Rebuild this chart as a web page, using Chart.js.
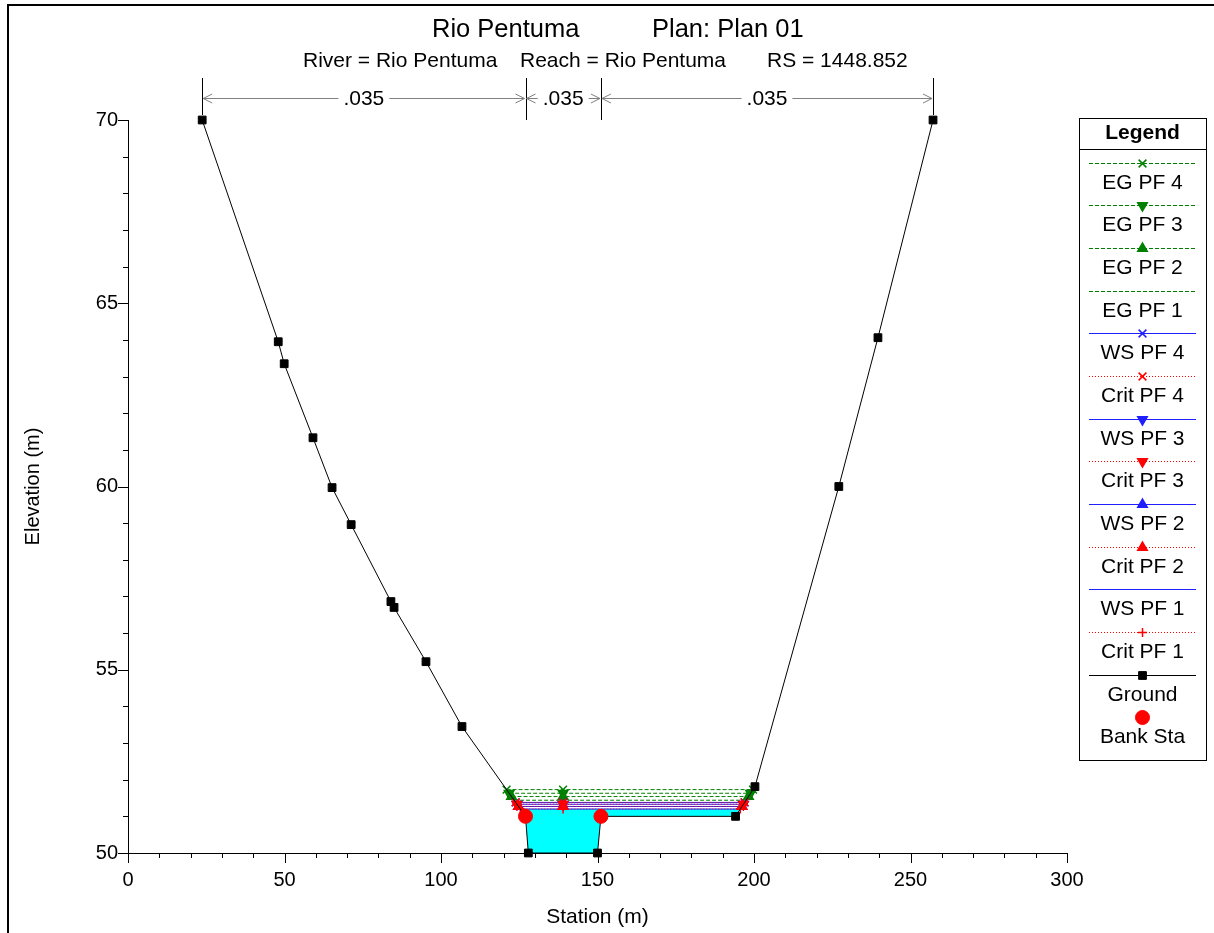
<!DOCTYPE html>
<html>
<head>
<meta charset="utf-8">
<title>Rio Pentuma - Plan 01</title>
<script src="https://cdn.jsdelivr.net/npm/chart.js@4/dist/chart.umd.min.js"></script>
<style>
  html, body { margin: 0; padding: 0; background: #fff; }
  #wrap { width: 1214px; height: 933px; }
</style>
</head>
<body>
<div id="wrap"><canvas id="xsChart" width="1214" height="933"></canvas></div>
<script>
'use strict'

// Ground points of the cross section (station m, elevation m)
const groundSta = [23.7, 48.0, 49.9, 59.1, 65.2, 71.3, 84.0, 85.0, 95.2, 106.7, 127.0, 127.9, 150.0, 151.1, 194.1, 200.3, 227.1, 239.6, 257.2]
const groundElev = [70.0, 63.95, 63.35, 61.33, 59.97, 58.96, 56.86, 56.70, 55.22, 53.45, 51.0, 50.0, 50.0, 51.0, 51.0, 51.81, 60.0, 64.06, 70.0]

// Bank stations
const bankSta = [127.0, 151.1]
const bankElev = [51.0, 51.0]

// Manning's n zones along the top
const nBreaks = [23.7, 127.0, 151.1, 257.2]
const nValues = ['.035', '.035', '.035']

// Profiles (legend order) and their elevations
const profileNames = ['EG PF 4', 'EG PF 3', 'EG PF 2', 'EG PF 1', 'WS PF 4', 'Crit PF 4', 'WS PF 3', 'Crit PF 3', 'WS PF 2', 'Crit PF 2', 'WS PF 1', 'Crit PF 1']
const profileElev = [51.73, 51.63, 51.54, 51.44, 51.38, 51.38, 51.33, 51.33, 51.27, 51.27, 51.20, 51.20]
const markerSta = 139.0 // station of the middle marker on each profile line

// Axes
const xRange = [0, 300]
const yRange = [50, 70]

const FONT = '"Liberation Sans", Arial, sans-serif'
const WATER = '#00ffff'

// line look per profile kind
const kindStyle = {
  EG: { color: '#008000', dash: [4, 2] },
  WS: { color: '#1f1fff', dash: [] },
  Crit: { color: '#ff0000', dash: [1, 2] }
}

// marker per profile: [pointStyle, rotation]
const markers = {
  'EG PF 4': ['crossRot', 0],
  'EG PF 3': ['triangle', 180],
  'EG PF 2': ['triangle', 0],
  'EG PF 1': null,
  'WS PF 4': ['crossRot', 0],
  'Crit PF 4': ['crossRot', 0],
  'WS PF 3': ['triangle', 180],
  'Crit PF 3': ['triangle', 180],
  'WS PF 2': ['triangle', 0],
  'Crit PF 2': ['triangle', 0],
  'WS PF 1': null,
  'Crit PF 1': ['cross', 0]
}

// where a water level meets the ground, searching from the left or right end
function edgeStation (h, fromRight) {
  const n = groundSta.length
  for (let k = 0; k < n - 1; k++) {
    const i = fromRight ? n - 1 - k : k
    const j = fromRight ? i - 1 : i + 1
    if ((groundElev[i] - h) * (groundElev[j] - h) <= 0) {
      const t = (groundElev[i] - h) / (groundElev[i] - groundElev[j])
      return groundSta[i] + t * (groundSta[j] - groundSta[i])
    }
  }
  return fromRight ? groundSta[n - 1] : groundSta[0]
}

const groundIndex = profileNames.length

// legend entries, kept apart from the Chart.js dataset objects
const legendItems = []

const profileSets = profileNames.map((name, i) => {
  const h = profileElev[i]
  const kind = name.split(' ')[0]
  const st = kindStyle[kind]
  const mk = markers[name]
  const radius = mk ? (mk[0] === 'cross' ? 4.5 : 5.5) : 0
  legendItems.push({ label: name, line: true, color: st.color, dash: st.dash.slice(), style: mk ? mk[0] : null, rotation: mk ? mk[1] : 0, radius })
  const ds = {
    label: name,
    data: [
      { x: edgeStation(h, false), y: h },
      { x: markerSta, y: h },
      { x: edgeStation(h, true), y: h }
    ],
    showLine: true,
    borderColor: st.color,
    borderWidth: 1,
    borderDash: st.dash,
    pointStyle: mk ? mk[0] : 'circle',
    pointRotation: mk ? mk[1] : 0,
    pointRadius: radius,
    pointBackgroundColor: st.color,
    pointBorderColor: st.color,
    pointBorderWidth: 1.5,
    fill: false,
    clip: false,
    order: kind === 'EG' ? 4 : (kind === 'WS' ? 3 : 2)
  }
  if (name === 'WS PF 1') {
    ds.fill = groundIndex
    ds.backgroundColor = WATER
  }
  return ds
})

legendItems.push({ label: 'Ground', line: true, color: '#000000', dash: [], style: 'rect', rotation: 0, radius: 5.5 })
legendItems.push({ label: 'Bank Sta', line: false, color: '#ff0000', dash: [], style: 'circle', rotation: 0, radius: 7 })

const datasets = profileSets.concat([
  {
    label: 'Ground',
    data: groundSta.map((s, i) => ({ x: s, y: groundElev[i] })),
    showLine: true,
    borderColor: '#000',
    borderWidth: 1,
    pointStyle: 'rect',
    pointRadius: 5.5,
    pointBackgroundColor: '#000',
    pointBorderColor: '#000',
    pointBorderWidth: 1,
    clip: false,
    order: 1
  },
  {
    label: 'Bank Sta',
    data: bankSta.map((s, i) => ({ x: s, y: bankElev[i] })),
    showLine: false,
    pointStyle: 'circle',
    pointRadius: 7,
    pointBackgroundColor: '#ff0000',
    pointBorderColor: '#ff0000',
    pointBorderWidth: 1,
    clip: false,
    order: 0
  }
])

// legend sample line, drawn as filled pixel runs so its colour is exact
function drawSampleLine (ctx, it, x0, x1, y) {
  ctx.fillStyle = it.color
  if (!it.dash.length) {
    ctx.fillRect(x0, y, x1 - x0, 1)
    return
  }
  const on = it.dash[0]
  const off = it.dash[1]
  for (let px = x0; px < x1; px += on + off) {
    ctx.fillRect(px, y, Math.min(on, x1 - px), 1)
  }
}

function drawMarker (ctx, it, x, y) {
  ctx.setLineDash([])
  ctx.fillStyle = it.color
  ctx.strokeStyle = it.color
  ctx.lineWidth = it.style === 'rect' || it.style === 'circle' ? 1 : 1.5
  Chart.helpers.drawPoint(ctx, {
    pointStyle: it.style,
    rotation: it.rotation,
    radius: it.radius,
    borderWidth: ctx.lineWidth
  }, x, y)
}

const decor = {
  id: 'decor',
  beforeDraw (chart) {
    const ctx = chart.ctx
    ctx.save()
    ctx.fillStyle = '#fff'
    ctx.fillRect(0, 0, chart.width, chart.height)
    ctx.restore()
  },
  afterDraw (chart) {
    const { ctx, chartArea, scales: { x, y } } = chart
    ctx.save()
    ctx.setLineDash([])

    // outer frame
    ctx.strokeStyle = '#000'
    ctx.lineWidth = 2
    ctx.beginPath()
    ctx.moveTo(8, chart.height)
    ctx.lineTo(8, 5)
    ctx.lineTo(chart.width, 5)
    ctx.stroke()

    // minor / major tick marks
    ctx.lineWidth = 1
    ctx.beginPath()
    for (let v = yRange[0]; v <= yRange[1]; v += 1) {
      const py = Math.round(y.getPixelForValue(v)) + 0.5
      const len = v % 5 === 0 ? 10 : 5
      ctx.moveTo(chartArea.left - len, py)
      ctx.lineTo(chartArea.left, py)
    }
    for (let v = xRange[0]; v <= xRange[1]; v += 10) {
      const px = Math.round(x.getPixelForValue(v)) + 0.5
      const len = v % 50 === 0 ? 10 : 5
      ctx.moveTo(px, chartArea.bottom)
      ctx.lineTo(px, chartArea.bottom + len)
    }
    ctx.stroke()

    // titles
    ctx.fillStyle = '#000'
    ctx.textBaseline = 'middle'
    ctx.textAlign = 'left'
    ctx.font = '25.5px ' + FONT
    ctx.fillText('Rio Pentuma', 432, 30)
    ctx.fillText('Plan: Plan 01', 652, 30)
    ctx.font = '21px ' + FONT
    ctx.fillText('River = Rio Pentuma', 303, 61)
    ctx.fillText('Reach = Rio Pentuma', 520, 61)
    ctx.fillText('RS = 1448.852', 767, 61)

    // Manning's n zones
    const arrowY = 98.5
    ctx.textAlign = 'center'
    ctx.beginPath()
    ctx.strokeStyle = '#000'
    nBreaks.forEach((s, i) => {
      const px = Math.round(x.getPixelForValue(s)) + 0.5
      const end = i === 0 || i === nBreaks.length - 1 ? chartArea.top - 5 : chartArea.top
      ctx.moveTo(px, 78)
      ctx.lineTo(px, end)
    })
    ctx.stroke()
    ctx.strokeStyle = '#808080'
    nValues.forEach((n, i) => {
      const a = x.getPixelForValue(nBreaks[i]) + 1
      const b = x.getPixelForValue(nBreaks[i + 1]) - 1
      const mid = (a + b) / 2
      const half = ctx.measureText(n).width / 2 + 5
      ctx.beginPath()
      ctx.moveTo(a, arrowY)
      ctx.lineTo(mid - half, arrowY)
      ctx.moveTo(mid + half, arrowY)
      ctx.lineTo(b, arrowY)
      ctx.moveTo(a + 9, arrowY - 4.5)
      ctx.lineTo(a, arrowY)
      ctx.lineTo(a + 9, arrowY + 4.5)
      ctx.moveTo(b - 9, arrowY - 4.5)
      ctx.lineTo(b, arrowY)
      ctx.lineTo(b - 9, arrowY + 4.5)
      ctx.stroke()
      ctx.fillText(n, mid, arrowY + 1)
    })

    // legend box
    const box = { left: 1079, top: 118, right: 1206, bottom: 760 }
    const cx = (box.left + box.right) / 2
    ctx.strokeStyle = '#000'
    ctx.lineWidth = 1
    ctx.strokeRect(box.left + 0.5, box.top + 0.5, box.right - box.left, box.bottom - box.top)
    ctx.beginPath()
    ctx.moveTo(box.left, 149.5)
    ctx.lineTo(box.right, 149.5)
    ctx.stroke()
    ctx.font = 'bold 21px ' + FONT
    ctx.fillText('Legend', cx, 133)
    ctx.font = '21px ' + FONT
    legendItems.forEach((it, i) => {
      const ly = Math.round(162.7 + 42.65 * i)
      if (it.line) drawSampleLine(ctx, it, 1089, 1196, ly)
      if (it.style) drawMarker(ctx, it, cx, ly + 0.5)
      ctx.fillStyle = '#000'
      ctx.fillText(it.label, cx, ly + 20)
    })
    ctx.restore()
  }
}

Chart.defaults.font.family = FONT
Chart.defaults.color = '#000'

const ctx = document.getElementById('xsChart').getContext('2d')
const chart = new Chart(ctx, {
  type: 'scatter',
  data: { datasets },
  options: {
    responsive: false,
    animation: false,
    events: [],
    layout: { padding: { top: 120, right: 147, left: 0, bottom: 0 } },
    plugins: {
      legend: { display: false },
      tooltip: { enabled: false },
      filler: { drawTime: 'beforeDatasetsDraw' }
    },
    scales: {
      x: {
        type: 'linear',
        min: xRange[0],
        max: xRange[1],
        grid: { display: false, drawTicks: false },
        border: { display: true, color: '#000', width: 1 },
        ticks: { stepSize: 50, font: { size: 20 }, padding: 15, maxRotation: 0 },
        title: { display: true, text: 'Station (m)', font: { size: 21 }, padding: { top: 0, bottom: 3 } },
        afterFit (scale) { scale.height = 80 }
      },
      y: {
        type: 'linear',
        min: yRange[0],
        max: yRange[1],
        grid: { display: false, drawTicks: false },
        border: { display: true, color: '#000', width: 1 },
        ticks: { stepSize: 5, font: { size: 20 }, padding: 10 },
        title: { display: true, text: 'Elevation (m)', font: { size: 20 }, padding: { top: 21, bottom: 0 } },
        afterFit (scale) { scale.width = 128 }
      }
    }
  },
  plugins: [decor]
})
</script>
</body>
</html>
